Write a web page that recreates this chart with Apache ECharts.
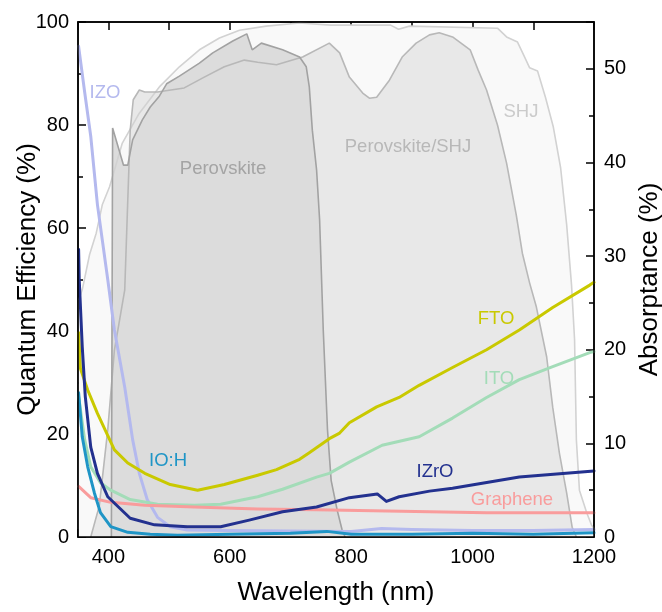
<!DOCTYPE html>
<html>
<head>
<meta charset="utf-8">
<script src="https://cdn.jsdelivr.net/npm/echarts@6/dist/echarts.min.js"></script>
<style>html,body{margin:0;padding:0;background:#fff}#c{width:662px;height:612px}</style>
</head>
<body>
<div id="c"></div>
<script>
// ---- Quantum efficiency (%) curves, [wavelength nm, QE %] ----
const shj = [[351,46],[357,48],[369,54.8],[380,59],[390,64.5],[402,68],[423,76.5],[451,82.3],[484,87.4],[517,91.3],[550,94.6],[583,96.9],[616,98.4],[660,99.2],[715,99.8],[766,99.4],[865,99.4],[878,98.6],[896,99.2],[1041,98.8],[1056,97.1],[1074,96.1],[1084,93.6],[1094,91.1],[1107,90.5],[1120,85.4],[1133,79.6],[1145,71.7],[1155,60.6],[1163,48.9],[1168,38.3],[1171,18.8],[1176,9.1],[1188,4.7],[1196,2.3],[1200,1.7]];
const perovskiteShj = [[371,0],[385,6],[399,20.8],[410,36.3],[427,48],[432,65.4],[436,79],[441,84.9],[451,86.8],[460,86.4],[481,86.4],[525,87.2],[558,89.3],[591,91.3],[624,92.6],[646,92.2],[677,91.7],[720,93.2],[764,95.9],[781,94],[797,89.3],[819,86.2],[830,85.2],[842,85.4],[863,88.7],[884,93.2],[907,95.9],[929,97.5],[945,97.9],[967,97.1],[996,94.6],[1009,90.7],[1023,86.8],[1041,80],[1056,72.6],[1072,62.5],[1082,55.1],[1094,49.3],[1105,44.7],[1122,35],[1132,25.2],[1143,16.3],[1155,8.5],[1164,1.9],[1171,0]];
const perovskite = [[405,0],[407,79.4],[425,72.2],[432,72.2],[440,77.1],[456,81],[469,83.5],[484,85.6],[496,88],[517,89.5],[550,92],[572,94],[605,96.3],[628,97.7],[637,94.6],[652,95.9],[687,94.6],[715,93.2],[726,91.3],[731,87.4],[736,79],[743,71.3],[748,61.6],[754,40.2],[761,20.8],[767,11],[777,5.2],[785,1.4],[790,0]];

// ---- Absorptance (%) curves, [wavelength nm, absorptance %] ----
const izo = [[351,52.4],[361,47.5],[371,42.8],[382,35.5],[399,27.5],[410,22.1],[427,16],[440,10.4],[451,6.8],[464,4],[481,2.1],[502,1.1],[530,0.75],[600,0.7],[800,0.6],[850,0.9],[900,0.8],[1000,0.7],[1100,0.7],[1200,0.8]];
const ioh = [[351,15.4],[357,10.7],[366,7.5],[377,4.7],[387,2.6],[404,1.1],[432,0.5],[469,0.3],[514,0.2],[600,0.3],[700,0.4],[760,0.6],[800,0.3],[900,0.3],[1000,0.4],[1100,0.3],[1200,0.45]];
const fto = [[351,21.8],[354,18],[366,15.7],[382,13.2],[410,9.3],[432,7.9],[460,6.8],[502,5.6],[547,5],[591,5.6],[646,6.6],[677,7.2],[715,8.3],[731,9],[764,10.5],[781,11.1],[797,12.2],[842,13.9],[879,14.9],[912,16.2],[967,18.1],[1023,20],[1077,22.1],[1132,24.5],[1193,26.9],[1200,27.2]];
const ito = [[351,15],[361,10.4],[371,7.5],[387,5.8],[404,5],[436,4],[481,3.5],[542,3.4],[585,3.5],[646,4.3],[687,5.1],[743,6.4],[764,6.8],[797,8],[851,9.8],[912,10.7],[967,12.7],[1023,14.9],[1077,16.8],[1132,18.2],[1193,19.7],[1200,19.8]];
const izro = [[351,30.7],[352,27.5],[357,20.3],[362,15],[371,9.6],[382,6.8],[399,4.3],[436,2],[476,1.3],[530,1.1],[585,1.1],[632,1.8],[687,2.7],[743,3.2],[797,4.2],[843,4.6],[858,3.8],[879,4.3],[929,4.9],[967,5.2],[1077,6.4],[1200,7.05]];
const graphene = [[351,5.4],[371,4.2],[404,3.7],[460,3.4],[542,3.2],[646,3],[743,2.9],[929,2.7],[1023,2.6],[1200,2.6]];

// ---- axis ticks / labels ----
const xRange = [350, 1200];
const qeRange = [0, 100];
const absRange = [0, 55];
const xLabelStep = 200;
const absLabels = [0, 10, 20, 30, 40, 50];

const FONT = 'Liberation Sans, Arial, sans-serif';
const black = '#000';

const chart = echarts.init(document.getElementById('c'), null, {renderer: 'canvas'});

function qeArea(name, data, fill) {
  return {name: name, type: 'line', data: data, xAxisIndex: 0, yAxisIndex: 0, symbol: 'none',
    lineStyle: {width: 0, opacity: 0}, areaStyle: {color: fill, opacity: 1}, silent: true, z: 1};
}
function qeLine(name, data, color) {
  return {name: name + ' line', type: 'line', data: data, xAxisIndex: 0, yAxisIndex: 0, symbol: 'none',
    lineStyle: {width: 1.6, color: color}, silent: true, z: 2};
}
function absLine(name, data, color) {
  return {name: name, type: 'line', data: data, xAxisIndex: 0, yAxisIndex: 1, symbol: 'none',
    lineStyle: {width: 3, color: color, join: 'round', cap: 'round'}, silent: true, z: 3};
}

function txt(x, y, s, color) {
  return {type: 'text', x: x, y: y, style: {text: s, fill: color, font: '18.5px ' + FONT, align: 'center', verticalAlign: 'middle'}, z: 10};
}

const lineAx = {show: true, onZero: false, lineStyle: {color: black, width: 1.5}};

chart.setOption({
  animation: false,
  backgroundColor: '#fff',
  grid: {left: 78, right: 68, top: 22, bottom: 75, containLabel: false, outerBoundsMode: 'none',
         show: true, borderColor: black, borderWidth: 1.5, backgroundColor: 'transparent', z: 5},
  xAxis: [
    {type: 'value', position: 'bottom', min: xRange[0], max: xRange[1], splitNumber: 5,
     axisLine: lineAx,
     axisTick: {show: true, inside: true, length: 8, lineStyle: {color: black, width: 1.5}},
     axisLabel: {color: black, fontSize: 20, fontFamily: FONT, margin: 10,
       formatter: v => (v % xLabelStep === 0 ? String(v) : '')},
     splitLine: {show: false},
     name: 'Wavelength (nm)', nameLocation: 'middle', nameGap: 43, nameMoveOverlap: false,
     nameTextStyle: {color: black, fontSize: 26, fontFamily: FONT}},
    {type: 'value', position: 'bottom', min: xRange[0], max: xRange[1], splitNumber: 9,
     axisLine: {show: false, onZero: false}, axisLabel: {show: false}, splitLine: {show: false},
     axisTick: {show: true, inside: true, length: 5, lineStyle: {color: black, width: 1.5}}},
    {type: 'value', position: 'top', min: xRange[0], max: xRange[1], splitNumber: 9,
     axisLine: lineAx, axisLabel: {show: false}, splitLine: {show: false},
     axisTick: {show: true, inside: true, length: 8, lineStyle: {color: black, width: 1.5}}}
  ],
  yAxis: [
    {type: 'value', position: 'left', min: qeRange[0], max: qeRange[1], interval: 20,
     axisLine: lineAx,
     axisTick: {show: true, inside: true, length: 8, lineStyle: {color: black, width: 1.5}},
     minorTick: {show: true, splitNumber: 2, length: 5, lineStyle: {color: black, width: 1.5}},
     axisLabel: {color: black, fontSize: 20, fontFamily: FONT, margin: 9},
     splitLine: {show: false}, minorSplitLine: {show: false},
     name: 'Quantum Efficiency (%)', nameLocation: 'middle', nameGap: 37, nameMoveOverlap: false,
     nameTextStyle: {color: black, fontSize: 26, fontFamily: FONT}},
    {type: 'value', position: 'right', min: absRange[0], max: absRange[1], interval: 10,
     axisLine: lineAx,
     axisTick: {show: true, inside: true, length: 8, lineStyle: {color: black, width: 1.5}},
     axisLabel: {color: black, fontSize: 20, fontFamily: FONT, margin: 10,
       formatter: v => (absLabels.indexOf(v) >= 0 ? String(v) : '')},
     splitLine: {show: false},
     name: 'Absorptance (%)', nameLocation: 'middle', nameGap: 43, nameMoveOverlap: false,
     nameTextStyle: {color: black, fontSize: 26, fontFamily: FONT}},
    {type: 'value', position: 'right', min: absRange[0], max: absRange[1], interval: 5,
     axisLine: {show: false, onZero: false}, axisLabel: {show: false}, splitLine: {show: false},
     axisTick: {show: true, inside: true, length: 5, lineStyle: {color: black, width: 1.5}}}
  ],
  series: [
    qeArea('SHJ', shj, '#f9f9f9'),
    qeArea('Perovskite/SHJ', perovskiteShj, '#e8e8e8'),
    qeArea('Perovskite', perovskite, '#dcdcdc'),
    qeLine('SHJ', shj, '#d2d2d2'),
    qeLine('Perovskite/SHJ', perovskiteShj, '#b8b8b8'),
    qeLine('Perovskite', perovskite, '#a2a2a2'),
    absLine('IZO', izo, '#b4b9ee'),
    absLine('ITO', ito, '#a3dcb8'),
    absLine('FTO', fto, '#c9c900'),
    absLine('Graphene', graphene, '#f99c9c'),
    absLine('IO:H', ioh, '#1f95c6'),
    absLine('IZrO', izro, '#23318f')
  ],
  graphic: [
    txt(105, 93, 'IZO', '#b4b9ee'),
    txt(223, 169, 'Perovskite', '#a4a4a4'),
    txt(408, 147, 'Perovskite/SHJ', '#b8b8b8'),
    txt(521, 112, 'SHJ', '#cbcbcb'),
    txt(496, 319, 'FTO', '#c9c900'),
    txt(499, 379, 'ITO', '#a3dcb8'),
    txt(435, 472, 'IZrO', '#23318f'),
    txt(512, 500, 'Graphene', '#f99c9c'),
    txt(168, 461, 'IO:H', '#1f95c6')
  ]
});
</script>
</body>
</html>
